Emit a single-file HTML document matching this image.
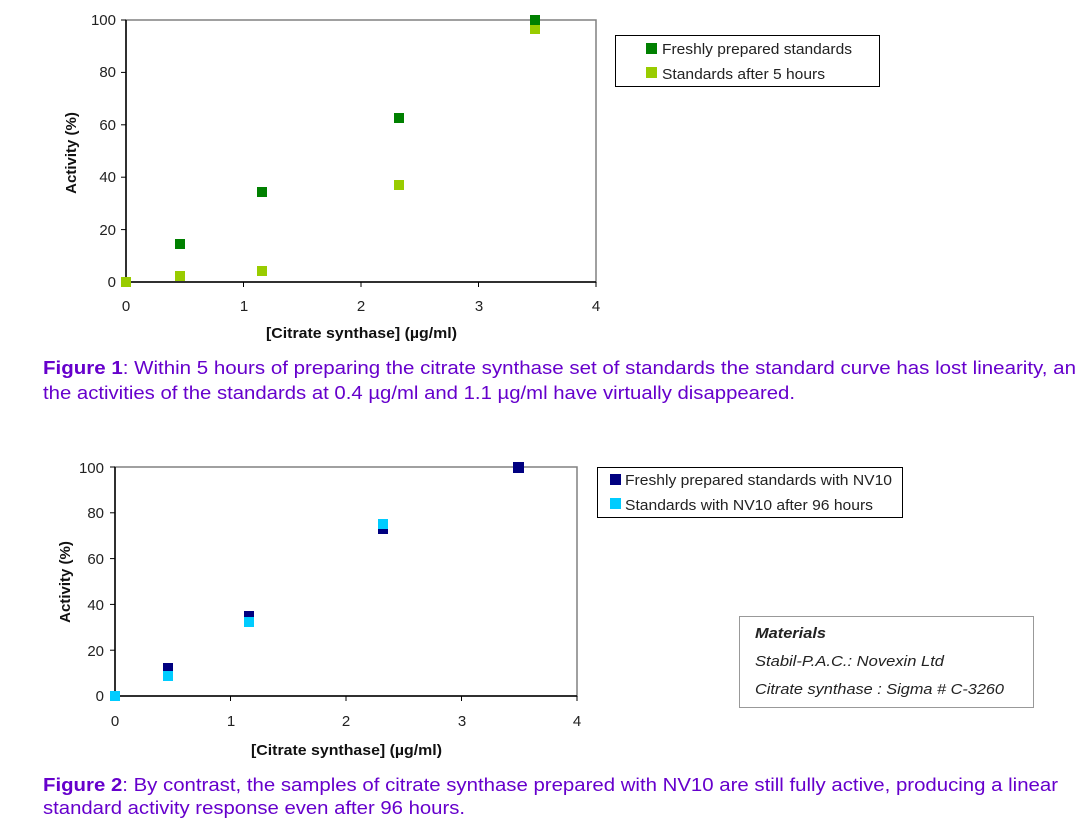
<!DOCTYPE html>
<html><head><meta charset="utf-8"><style>
body{margin:0;background:#fff;width:1076px;height:832px;overflow:hidden;font-family:"Liberation Sans",Arial,sans-serif}
svg{position:absolute;left:0;top:0}
</style></head><body>
<svg width="1076" height="832" xmlns="http://www.w3.org/2000/svg" font-family="Liberation Sans, Arial, sans-serif">
<!-- Chart 1 -->
<rect x="126" y="20" width="470" height="262" fill="#fff" stroke="#808080" stroke-width="1.5"/>
<line x1="126" y1="20" x2="126" y2="282" stroke="#000" stroke-width="1.5"/>
<line x1="126" y1="282" x2="596" y2="282" stroke="#000" stroke-width="1.5"/>
<g stroke="#000" stroke-width="1">
<line x1="121" y1="20" x2="126" y2="20"/><line x1="121" y1="72.4" x2="126" y2="72.4"/><line x1="121" y1="124.8" x2="126" y2="124.8"/><line x1="121" y1="177.2" x2="126" y2="177.2"/><line x1="121" y1="229.6" x2="126" y2="229.6"/><line x1="121" y1="282" x2="126" y2="282"/>
<line x1="243.5" y1="282" x2="243.5" y2="287"/><line x1="361" y1="282" x2="361" y2="287"/><line x1="478.5" y1="282" x2="478.5" y2="287"/><line x1="596" y1="282" x2="596" y2="287"/>
</g>
<g font-size="15" fill="#222" text-anchor="end">
<text x="116" y="25">100</text><text x="116" y="77">80</text><text x="116" y="130">60</text><text x="116" y="182">40</text><text x="116" y="235">20</text><text x="116" y="287">0</text>
</g>
<g font-size="15" fill="#222" text-anchor="middle">
<text x="126" y="311">0</text><text x="244" y="311">1</text><text x="361" y="311">2</text><text x="479" y="311">3</text><text x="596" y="311">4</text>
</g>
<text x="266" y="338" font-size="15" font-weight="bold" fill="#111" textLength="191" lengthAdjust="spacingAndGlyphs">[Citrate synthase] (µg/ml)</text>
<text transform="translate(76,153) rotate(-90)" font-size="15" font-weight="bold" text-anchor="middle" fill="#111">Activity (%)</text>
<g fill="#99cc00">
<rect x="121" y="277" width="10" height="10"/><rect x="175" y="271" width="10" height="10"/><rect x="257" y="266" width="10" height="10"/><rect x="394" y="180" width="10" height="10"/><rect x="530" y="24" width="10" height="10"/>
</g>
<g fill="#008000">
<rect x="175" y="239" width="10" height="10"/><rect x="257" y="187" width="10" height="10"/><rect x="394" y="113" width="10" height="10"/><rect x="530" y="15" width="10" height="10"/>
</g>
<rect x="615.5" y="35.5" width="264" height="51" fill="#fff" stroke="#000" stroke-width="1"/>
<rect x="646" y="43" width="11" height="11" fill="#008000"/>
<rect x="646" y="67" width="11" height="11" fill="#99cc00"/>
<text x="662" y="54" font-size="15" fill="#222" textLength="190" lengthAdjust="spacingAndGlyphs">Freshly prepared standards</text>
<text x="662" y="79" font-size="15" fill="#222" textLength="163" lengthAdjust="spacingAndGlyphs">Standards after 5 hours</text>
<!-- Caption 1 -->
<text x="43" y="374" font-size="18" fill="#6600cc" textLength="1033" lengthAdjust="spacingAndGlyphs"><tspan font-weight="bold">Figure 1</tspan>: Within 5 hours of preparing the citrate synthase set of standards the standard curve has lost linearity, an</text>
<text x="43" y="399" font-size="18" fill="#6600cc" textLength="752" lengthAdjust="spacingAndGlyphs">the activities of the standards at 0.4 µg/ml and 1.1 µg/ml have virtually disappeared.</text>
<!-- Chart 2 -->
<rect x="115" y="467" width="462" height="229" fill="#fff" stroke="#808080" stroke-width="1.5"/>
<line x1="115" y1="467" x2="115" y2="696" stroke="#000" stroke-width="1.5"/>
<line x1="115" y1="696" x2="577" y2="696" stroke="#000" stroke-width="1.5"/>
<g stroke="#000" stroke-width="1">
<line x1="110" y1="467" x2="115" y2="467"/><line x1="110" y1="512.8" x2="115" y2="512.8"/><line x1="110" y1="558.6" x2="115" y2="558.6"/><line x1="110" y1="604.4" x2="115" y2="604.4"/><line x1="110" y1="650.2" x2="115" y2="650.2"/><line x1="110" y1="696" x2="115" y2="696"/>
<line x1="230.5" y1="696" x2="230.5" y2="701"/><line x1="346" y1="696" x2="346" y2="701"/><line x1="461.5" y1="696" x2="461.5" y2="701"/><line x1="577" y1="696" x2="577" y2="701"/>
</g>
<g font-size="15" fill="#222" text-anchor="end">
<text x="104" y="473">100</text><text x="104" y="518">80</text><text x="104" y="564">60</text><text x="104" y="610">40</text><text x="104" y="656">20</text><text x="104" y="701">0</text>
</g>
<g font-size="15" fill="#222" text-anchor="middle">
<text x="115" y="726">0</text><text x="231" y="726">1</text><text x="346" y="726">2</text><text x="462" y="726">3</text><text x="577" y="726">4</text>
</g>
<text x="251" y="755" font-size="15" font-weight="bold" fill="#111" textLength="191" lengthAdjust="spacingAndGlyphs">[Citrate synthase] (µg/ml)</text>
<text transform="translate(70,582) rotate(-90)" font-size="15" font-weight="bold" text-anchor="middle" fill="#111">Activity (%)</text>
<g fill="#000080">
<rect x="110" y="691" width="10" height="10"/><rect x="163" y="663" width="10" height="10"/><rect x="244" y="611" width="10" height="10"/><rect x="378" y="524" width="10" height="10"/><rect x="513" y="462" width="11" height="11"/>
</g>
<g fill="#00ccff">
<rect x="110" y="691" width="10" height="10"/><rect x="163" y="671" width="10" height="10"/><rect x="244" y="617" width="10" height="10"/><rect x="378" y="519" width="10" height="10"/>
</g>
<rect x="597.5" y="467.5" width="305" height="50" fill="#fff" stroke="#000" stroke-width="1"/>
<rect x="610" y="474" width="11" height="11" fill="#000080"/>
<rect x="610" y="498" width="11" height="11" fill="#00ccff"/>
<text x="625" y="485" font-size="15" fill="#222" textLength="267" lengthAdjust="spacingAndGlyphs">Freshly prepared standards with NV10</text>
<text x="625" y="510" font-size="15" fill="#222" textLength="248" lengthAdjust="spacingAndGlyphs">Standards with NV10 after 96 hours</text>
<!-- Materials -->
<rect x="739.5" y="616.5" width="294" height="91" fill="#fff" stroke="#999" stroke-width="1"/>
<text x="755" y="638" font-size="15" font-style="italic" font-weight="bold" fill="#222" textLength="71" lengthAdjust="spacingAndGlyphs">Materials</text>
<text x="755" y="666" font-size="15" font-style="italic" fill="#222" textLength="189" lengthAdjust="spacingAndGlyphs">Stabil-P.A.C.: Novexin Ltd</text>
<text x="755" y="694" font-size="15" font-style="italic" fill="#222" textLength="249" lengthAdjust="spacingAndGlyphs">Citrate synthase : Sigma # C-3260</text>
<!-- Caption 2 -->
<text x="43" y="791" font-size="18" fill="#6600cc" textLength="1015" lengthAdjust="spacingAndGlyphs"><tspan font-weight="bold">Figure 2</tspan>: By contrast, the samples of citrate synthase prepared with NV10 are still fully active, producing a linear</text>
<text x="43" y="814" font-size="18" fill="#6600cc" textLength="422" lengthAdjust="spacingAndGlyphs">standard activity response even after 96 hours.</text>
</svg>
</body></html>
